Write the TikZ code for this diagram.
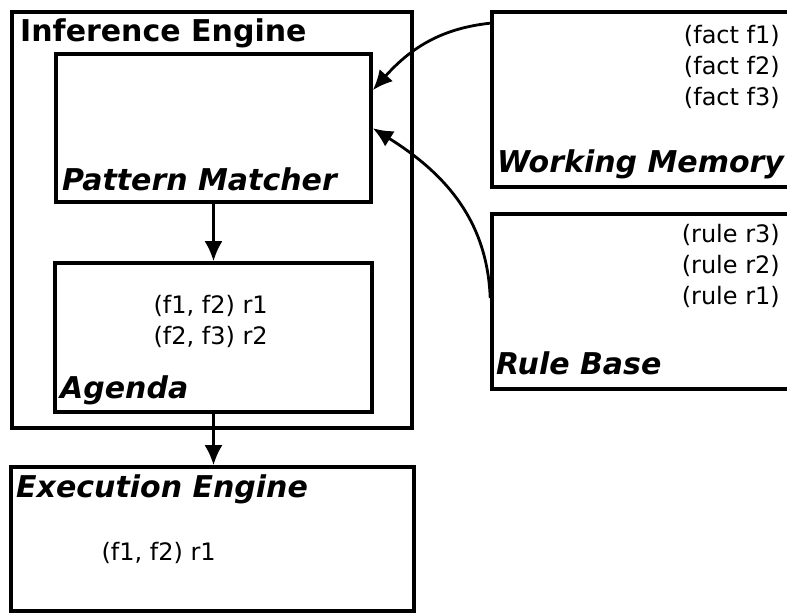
\documentclass[tikz,border=0pt]{standalone}
\usepackage{fontspec}
\setmainfont{DejaVu Sans}
\usepackage{tikz}
\usetikzlibrary{arrows.meta}
\tikzset{>={Latex[length=20pt, width=18pt]}}
\tikzset{
    box/.style={draw, line width=3.6pt, rectangle, inner sep=0pt},
    link/.style={->, line width=2.8pt},
    title/.style={anchor=base west, inner sep=0pt, font=\fontsize{30}{36}\selectfont\bfseries\itshape},
    entry/.style={anchor=base east, inner sep=0pt, font=\fontsize{24}{30}\selectfont}
}

\begin{document}
\begin{tikzpicture}[x=1pt, y=-1pt]
    \clip (0, 0) rectangle (787, 615);
    \fill[white] (0, 0) rectangle (787, 615);
    % boxes
    \node[box, minimum width=400pt, minimum height=416pt](ie) at (212, 220){};
    \node[box, minimum width=315pt, minimum height=148pt](pm) at (213.5, 128){};
    \node[box, minimum width=317pt, minimum height=149pt](ag) at (213.5, 337.5){};
    \node[box, minimum width=403pt, minimum height=144pt](ex) at (212.5, 539){};
    \node[box, minimum width=308pt, minimum height=175pt](wm) at (646, 99.5){};
    \node[box, minimum width=308pt, minimum height=175pt](rb) at (646, 301.5){};
    % titles
    \node[title, font=\fontsize{30}{36}\selectfont\bfseries](ietitle) at (20, 42){Inference Engine};
    \node[title](pmtitle) at (62, 190){Pattern Matcher};
    \node[title](agtitle) at (60, 398){Agenda};
    \node[title](extitle) at (16, 497){Execution Engine};
    \node[title](wmtitle) at (497, 172){Working Memory};
    \node[title](rbtitle) at (496, 374){Rule Base};
    % contents
    \foreach \i/\y in {1/44, 2/75, 3/106}
        \node[entry](fact\i) at (780, \y){(fact f\i)};
    \foreach \i/\y in {3/242, 2/273, 1/304}
        \node[entry](rule\i) at (780, \y){(rule r\i)};
    \node[entry](act1) at (268, 313){(f1, f2) r1};
    \node[entry](act2) at (268, 344){(f2, f3) r2};
    \node[entry](fired) at (216, 560){(f1, f2) r1};
    % connectors
    \draw[link](pm) -- (ag);
    \draw[link](ag.south) -- (ag.south |- ex.north);
    \draw[link]([yshift=-13pt]wm.north west) to[out=186, in=48] ([yshift=-38pt]pm.north east);
    \draw[link]([yshift=-86pt]rb.north west) to[out=92, in=-32] ([yshift=-76pt]pm.north east);
\end{tikzpicture}
\end{document}
